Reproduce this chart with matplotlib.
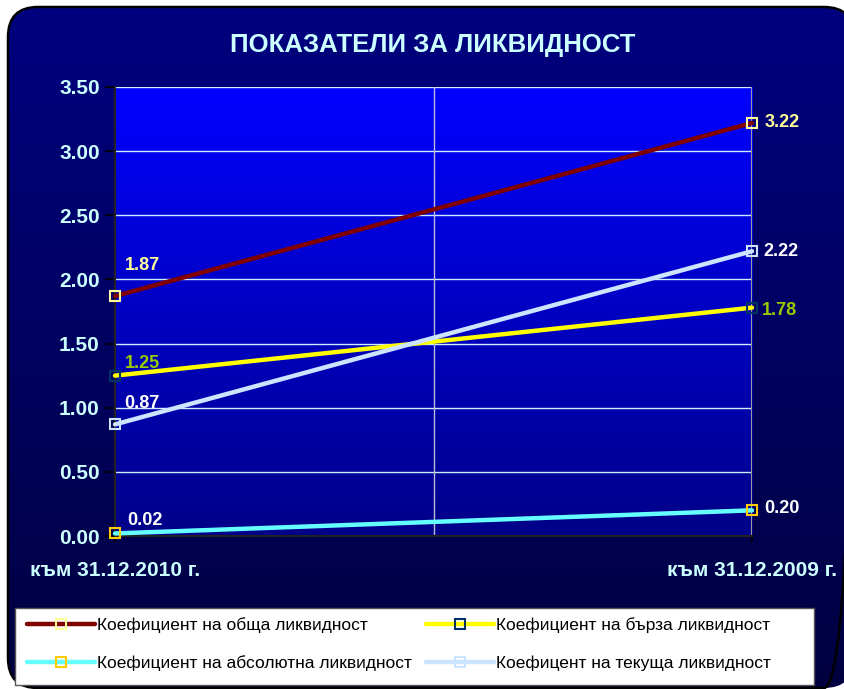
import numpy as np
import matplotlib.pyplot as plt
from matplotlib.patches import FancyBboxPatch, Rectangle

plt.rcParams['font.family'] = ['Liberation Sans', 'DejaVu Sans']

# Data
categories = ['към 31.12.2010 г.', 'към 31.12.2009 г.']
series_names = ['Коефициент на обща ликвидност',
                'Коефициент на бърза ликвидност',
                'Коефициент на абсолютна ликвидност',
                'Коефицент на текуща ликвидност']
obshta = [1.87, 3.22]
barza = [1.25, 1.78]
absolyutna = [0.02, 0.20]
tekushta = [0.87, 2.22]
yticks = [0.0, 0.5, 1.0, 1.5, 2.0, 2.5, 3.0, 3.5]

W, H = 844, 689
fig = plt.figure(figsize=(W / 100, H / 100), dpi=100)
fig.patch.set_facecolor('white')

# outer rounded box with a vertical gradient
bg = fig.add_axes([0, 0, 1, 1], zorder=-10)
bg.set_xlim(0, W)
bg.set_ylim(H, 0)
bg.axis('off')
box = FancyBboxPatch((8, 7), W + 2, H - 8, boxstyle='round,pad=0,rounding_size=30',
                     facecolor='none', edgecolor='black', lw=1.8, zorder=2)
bg.add_patch(box)
grad = np.linspace(0, 1, 256).reshape(-1, 1)
top = np.array([0, 0, 0x80]) / 255
bot = np.array([0, 0, 0x40]) / 255
img = top + grad[..., None] * (bot - top)
im = bg.imshow(img.reshape(256, 1, 3), extent=(0, W + 20, H, 0), aspect='auto', zorder=1)
im.set_clip_path(box)
# legend box
bg.add_patch(Rectangle((15, 608), 814 - 15, 685 - 608, facecolor='white',
                       edgecolor='#555555', lw=1, zorder=3))

# plot area
ax = fig.add_axes([115 / W, 1 - 536 / H, (752 - 115) / W, (536 - 87) / H])
ax.set_xlim(0, 1)
ax.set_ylim(0, 3.5)
ptop = np.array([0, 0, 0xFF]) / 255
pbot = np.array([0, 0, 0x88]) / 255
pimg = ptop + grad[..., None] * (pbot - ptop)
ax.imshow(pimg.reshape(256, 1, 3), extent=(0, 1, 0, 3.5), aspect='auto', zorder=0)

for y in yticks[1:]:
    ax.axhline(y, color='#CCEEFF', lw=1, zorder=1)
ax.axvline(0.5, color='#BBBBDD', lw=1, zorder=1)
ax.axvline(1.0, color='#999999', lw=1.5, zorder=1)

for s in ['top', 'right']:
    ax.spines[s].set_visible(False)
ax.spines['left'].set_color('#222222')
ax.spines['bottom'].set_color('#222222')
ax.spines['left'].set_linewidth(1.5)
ax.spines['bottom'].set_linewidth(1.5)

ax.set_yticks(yticks)
ax.set_yticklabels(['%.2f' % v for v in yticks])
ax.set_xticks([0, 1])
ax.set_xticklabels(categories)
ax.tick_params(axis='y', colors='black', labelcolor='#CCFFFF', labelsize=15,
               length=7, width=1.2, direction='out', pad=4)
ax.tick_params(axis='x', colors='black', labelcolor='#CCFFFF', labelsize=15,
               length=4, width=1.2, direction='out', pad=14)
for lab in ax.get_xticklabels() + ax.get_yticklabels():
    lab.set_fontweight('bold')

x = [0, 1]
styles = [
    (obshta, '#800000', '#FFFF99', '#FFFF99'),
    (barza, '#FFFF00', '#003366', '#99CC00'),
    (absolyutna, '#66FFFF', '#FFCC00', '#FFFFFF'),
    (tekushta, '#CCE4FF', '#CCE4FF', '#FFFFFF'),
]
left_off = [(7, 22), (7, 9), (9, 9), (7, 15)]
right_off = [(9, 0), (7, -2), (9, 1), (8, 0)]
handles = []
for (vals, lc, mc, tc), lo, ro, name in zip(styles, left_off, right_off, series_names):
    h, = ax.plot(x, vals, color=lc, lw=3.2, marker='s', markersize=6.5,
                 markerfacecolor='none', markeredgecolor=mc, markeredgewidth=1.5,
                 solid_capstyle='round', clip_on=False, zorder=5, label=name)
    handles.append(h)
    ax.annotate('%.2f' % vals[0], (0, vals[0]), xytext=lo, textcoords='offset points',
                color=tc, fontsize=13, fontweight='bold', ha='left', va='center')
    ax.annotate('%.2f' % vals[1], (1, vals[1]), xytext=ro, textcoords='offset points',
                color=tc, fontsize=13, fontweight='bold', ha='left', va='center')

fig.text(433 / W, 1 - 45 / H, 'ПОКАЗАТЕЛИ ЗА ЛИКВИДНОСТ', color='#CCFFFF',
         fontsize=18.5, fontweight='bold', ha='center', va='center')

order = [0, 2, 1, 3]
leg = fig.legend([handles[i] for i in order], [series_names[i] for i in order],
                 ncol=2, loc='center left',
                 bbox_to_anchor=(27 / W, 1 - 644 / H),
                 frameon=False, fontsize=12.5, handlelength=3.9, handletextpad=0.15,
                 borderaxespad=0, borderpad=0, labelspacing=1.3, columnspacing=0.8)
for t in leg.get_texts():
    t.set_color('black')

fig.savefig('out.png', dpi=100)
